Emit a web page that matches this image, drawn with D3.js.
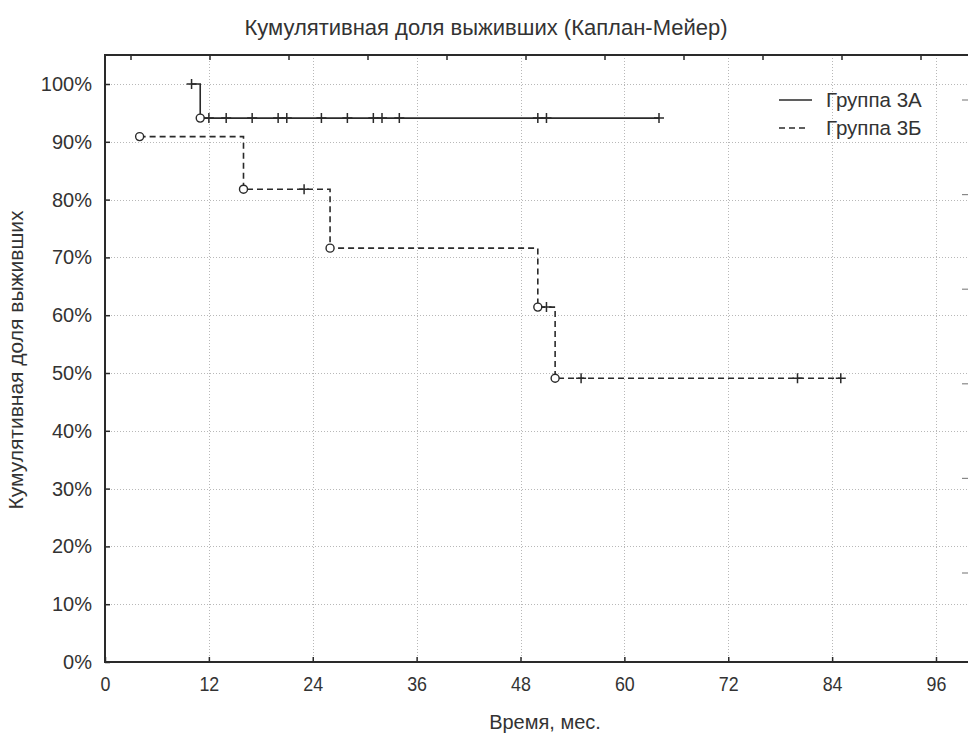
<!DOCTYPE html>
<html>
<head>
<meta charset="utf-8">
<script src="https://cdn.jsdelivr.net/npm/d3@7"></script>
<style>
  html, body { margin: 0; padding: 0; background: #fff; }
  svg { display: block; font-family: "Liberation Sans", Arial, sans-serif; }
</style>
</head>
<body>
<svg id="chart" width="968" height="738"></svg>
<script>
// Kaplan–Meier cumulative survival, two groups.
// status: "e" = event (circle), "c" = censored observation (+)
const groupATimes  = [10, 11, 12, 14, 17, 20, 21, 25, 28, 31, 32, 34, 50, 51, 64];
const groupAStatus = ["c", "e", "c", "c", "c", "c", "c", "c", "c", "c", "c", "c", "c", "c", "c"];
const groupASurv   = [100, 94.1, 94.1, 94.1, 94.1, 94.1, 94.1, 94.1, 94.1, 94.1, 94.1, 94.1, 94.1, 94.1, 94.1];

const groupBTimes  = [4, 16, 23, 26, 50, 51, 52, 55, 80, 85];
const groupBStatus = ["e", "e", "c", "e", "e", "c", "e", "c", "c", "c"];
const groupBSurv   = [90.9, 81.8, 81.8, 71.6, 61.4, 61.4, 49.1, 49.1, 49.1, 49.1];

const xTicks = [0, 12, 24, 36, 48, 60, 72, 84, 96];
const yTicks = [0, 10, 20, 30, 40, 50, 60, 70, 80, 90, 100];
const seriesNames = ["Группа 3А", "Группа 3Б"];

const title  = "Кумулятивная доля выживших (Каплан-Мейер)";
const xTitle = "Время, мес.";
const yTitle = "Кумулятивная доля выживших";

const W = 968, H = 738;
const plotLeft = 105, plotTop = 55, plotBottom = 662, plotRight = W;
const ink = "#2a2a2a";
const textInk = "#333";

const svg = d3.select("#chart");
const x = d3.scaleLinear().domain([0, 96]).range([plotLeft, 936]);
const y = d3.scaleLinear().domain([0, 100]).range([plotBottom, 84]);

// dotted grid
const grid = svg.append("g").attr("stroke", "#b8b8b8").attr("stroke-width", 1)
  .attr("stroke-dasharray", "1,2");
grid.selectAll("line.h").data(yTicks.filter(d => d > 0)).join("line").attr("class", "h")
  .attr("x1", plotLeft).attr("x2", plotRight)
  .attr("y1", d => Math.round(y(d)) + 0.5).attr("y2", d => Math.round(y(d)) + 0.5);
grid.selectAll("line.v").data(xTicks.filter(d => d > 0)).join("line").attr("class", "v")
  .attr("y1", plotTop).attr("y2", plotBottom)
  .attr("x1", d => Math.round(x(d)) + 0.5).attr("x2", d => Math.round(x(d)) + 0.5);

// axes with inward ticks
const yAxis = svg.append("g").attr("transform", `translate(${plotLeft},0)`)
  .call(d3.axisLeft(y).tickValues(yTicks).tickFormat(d => d + "%").tickSize(-5).tickPadding(13));
const xAxis = svg.append("g").attr("transform", `translate(0,${plotBottom})`)
  .call(d3.axisBottom(x).tickValues(xTicks).tickSize(-5).tickPadding(14));

[yAxis, xAxis].forEach(a => {
  a.select(".domain").remove();
  a.selectAll(".tick line").attr("stroke", ink).attr("stroke-width", 1.5);
  a.selectAll("text").attr("fill", textInk).attr("font-family", "Liberation Sans, Arial, sans-serif");
});
yAxis.selectAll("text").attr("font-size", 20);
xAxis.selectAll(".tick text").attr("font-size", 21).attr("transform", "scale(0.85,1)");

// frame
svg.append("path")
  .attr("d", `M${plotRight},${plotTop}H${plotLeft}V${plotBottom}H${plotRight}`)
  .attr("fill", "none").attr("stroke", ink).attr("stroke-width", 2);

// top frame ticks
const topTicks = d3.range(131, plotRight, 79);
svg.append("g").selectAll("line").data(topTicks).join("line")
  .attr("x1", d => d).attr("x2", d => d).attr("y1", plotTop).attr("y2", plotTop + 5)
  .attr("stroke", ink).attr("stroke-width", 1.5);

// right-side ticks
const rightTicks = d3.range(100, 600, 94.6);
svg.append("g").selectAll("line").data(rightTicks).join("line")
  .attr("x1", 962).attr("x2", 968).attr("y1", d => d).attr("y2", d => d)
  .attr("stroke", "#888").attr("stroke-width", 1.2);

// survival curves
function stepPath(times, surv) {
  let d = `M${x(times[0])},${y(surv[0])}`;
  for (let i = 1; i < times.length; i++) d += `H${x(times[i])}V${y(surv[i])}`;
  return d;
}
const groups = [
  { times: groupATimes, status: groupAStatus, surv: groupASurv, dash: null },
  { times: groupBTimes, status: groupBStatus, surv: groupBSurv, dash: "6,4" }
];
groups.forEach(g => {
  svg.append("path").attr("d", stepPath(g.times, g.surv))
    .attr("fill", "none").attr("stroke", ink).attr("stroke-width", 1.6)
    .attr("stroke-dasharray", g.dash);
  const pts = g.times.map((t, i) => ({ t, s: g.surv[i], st: g.status[i] }));
  svg.append("g").selectAll("circle").data(pts.filter(p => p.st === "e")).join("circle")
    .attr("cx", p => x(p.t)).attr("cy", p => y(p.s)).attr("r", 4)
    .attr("fill", "#fff").attr("stroke", ink).attr("stroke-width", 1.4);
  svg.append("g").selectAll("path").data(pts.filter(p => p.st === "c")).join("path")
    .attr("d", p => `M${x(p.t) - 5},${y(p.s)}h10M${x(p.t)},${y(p.s) - 5}v10`)
    .attr("stroke", ink).attr("stroke-width", 1.5);
});

// legend
const legend = svg.append("g");
seriesNames.forEach((name, i) => {
  const ly = 100 + i * 28;
  legend.append("line").attr("x1", 779).attr("x2", i === 0 ? 812 : 808)
    .attr("y1", ly).attr("y2", ly).attr("stroke", ink).attr("stroke-width", 1.6)
    .attr("stroke-dasharray", i === 0 ? null : "6,4");
  legend.append("text").attr("x", 826).attr("y", ly).attr("dy", "0.35em")
    .attr("font-size", 20.5).attr("fill", textInk).text(name);
});

// titles
svg.append("text").attr("x", 486).attr("y", 27).attr("dy", "0.35em")
  .attr("text-anchor", "middle").attr("font-size", 22).attr("fill", textInk).text(title);
svg.append("text").attr("x", 545).attr("y", 722).attr("dy", "0.35em")
  .attr("text-anchor", "middle").attr("font-size", 20).attr("fill", textInk).text(xTitle);
svg.append("text").attr("transform", "translate(16,360) rotate(-90)").attr("dy", "0.35em")
  .attr("text-anchor", "middle").attr("font-size", 21).attr("fill", textInk).text(yTitle);
</script>
</body>
</html>
